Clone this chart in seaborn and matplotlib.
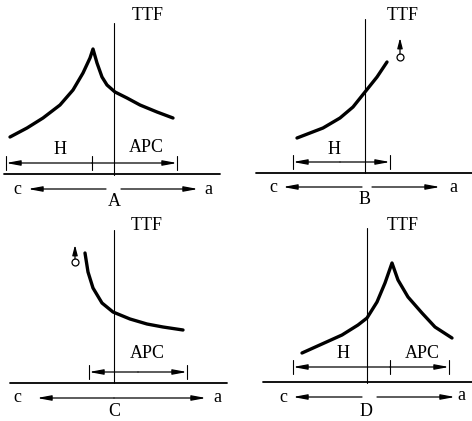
import matplotlib
matplotlib.use("Agg")
import matplotlib.pyplot as plt
import seaborn as sns
import pandas as pd

sns.set_theme(style="white")
plt.rcParams['font.family'] = ['Liberation Serif', 'DejaVu Serif']

# ---- data (figure pixel coordinates, y downward) ----
panels = ["A", "B", "C", "D"]

# curves
curve_A_x = [10, 27, 43, 60, 73, 83, 90, 93, 97, 102, 107, 115, 127, 140, 157, 173]
curve_A_y = [137, 128, 118, 105, 90, 73, 58, 49, 63, 77, 85, 92, 98, 105, 112, 118]
curve_B_x = [297, 310, 323, 340, 353, 365, 377, 387]
curve_B_y = [138, 133, 128, 118, 107, 92, 77, 62]
curve_C_x = [85, 88, 93, 102, 113, 130, 147, 163, 183]
curve_C_y = [253, 272, 288, 303, 312, 319, 324, 327, 330]
curve_D_x = [302, 322, 342, 358, 367, 377, 385, 392, 398, 408, 422, 435, 452]
curve_D_y = [353, 344, 335, 325, 318, 302, 283, 263, 280, 297, 313, 327, 338]

# TTF vertical lines: x, y_top, y_bottom
ttf_x = [114, 365, 114, 367]
ttf_top = [23, 19, 230, 228]
ttf_bot = [175, 173, 383, 383]

# baselines
base_x0 = [4, 256, 10, 263]
base_x1 = [220, 472, 227, 472]
base_y = [174, 173, 383, 382]

labels = ["TTF", "H", "APC", "c", "a"]

df = pd.concat([
    pd.DataFrame({"x": curve_A_x, "y": curve_A_y, "panel": "A"}),
    pd.DataFrame({"x": curve_B_x, "y": curve_B_y, "panel": "B"}),
    pd.DataFrame({"x": curve_C_x, "y": curve_C_y, "panel": "C"}),
    pd.DataFrame({"x": curve_D_x, "y": curve_D_y, "panel": "D"}),
])

fig = plt.figure(figsize=(4.72, 4.21), dpi=100)
ax = fig.add_axes([0, 0, 1, 1])
ax.set_xlim(0, 472)
ax.set_ylim(421, 0)
ax.axis("off")

for p in panels:
    sub = df[df.panel == p]
    sns.lineplot(data=sub, x="x", y="y", sort=False, estimator=None,
                 color="black", lw=2.4, ax=ax, legend=False)

for x, t, b in zip(ttf_x, ttf_top, ttf_bot):
    ax.plot([x, x], [t, b], color="black", lw=0.8)

for x0, x1, y in zip(base_x0, base_x1, base_y):
    ax.plot([x0, x1], [y, y], color="black", lw=1.3)

fs = 13
def txt(x, y, s):
    ax.text(x, y, s, ha="center", va="center", fontsize=fs, color="black")

def arrow(x0, x1, y, lw=0.9):
    ax.annotate("", xy=(x1, y), xytext=(x0, y),
                arrowprops=dict(arrowstyle="-|>,head_length=0.7,head_width=0.13",
                                color="black", lw=lw, shrinkA=0, shrinkB=0))

def tick(x, y, h=7):
    ax.plot([x, x], [y - h, y + h], color="black", lw=0.8)

# TTF labels
for x, y in [(148, 15), (403, 15), (147, 225), (403, 225)]:
    txt(x, y, "TTF")

# Panel A brackets
tick(6, 163); tick(92, 163); tick(177, 163)
arrow(92, 6, 163); arrow(92, 177, 163)
txt(60, 150, "H"); txt(146, 148, "APC")
# Panel B
tick(293, 162); tick(390, 162)
arrow(340, 293, 162); arrow(340, 390, 162)
txt(334, 150, "H")
# Panel C
tick(89, 372); tick(187, 372)
arrow(138, 89, 372); arrow(138, 187, 372)
txt(147, 353, "APC")
# Panel D
tick(293, 367); tick(390, 367); tick(449, 367)
arrow(390, 293, 367); arrow(390, 449, 367)
txt(343, 354, "H"); txt(422, 353, "APC")

# c <- -> a axes
arrow(106, 28, 189); arrow(121, 198, 189)
txt(17, 189, "c"); txt(208, 190, "a"); txt(114, 201, "A")
arrow(362, 283, 187); arrow(372, 440, 187)
txt(273, 188, "c"); txt(453, 188, "a"); txt(365, 200, "B")
arrow(114, 37, 398); arrow(114, 206, 398)
txt(17, 397, "c"); txt(217, 398, "a"); txt(114, 411, "C")
arrow(362, 293, 397); arrow(377, 455, 397)
txt(283, 397, "c"); txt(461, 396, "a"); txt(366, 411, "D")

# circle markers with up arrows (B and C)
for cx, cy, top in [(400, 57, 38), (75, 262, 245)]:
    ax.annotate("", xy=(cx, top), xytext=(cx, cy - 3),
                arrowprops=dict(arrowstyle="-|>,head_length=0.5,head_width=0.13",
                                color="black", lw=0.9, shrinkA=0, shrinkB=0))
    ax.plot([cx], [cy], marker="o", ms=5, mfc="white", mec="black", mew=0.9)

fig.savefig("out.png", dpi=100, facecolor="white")
